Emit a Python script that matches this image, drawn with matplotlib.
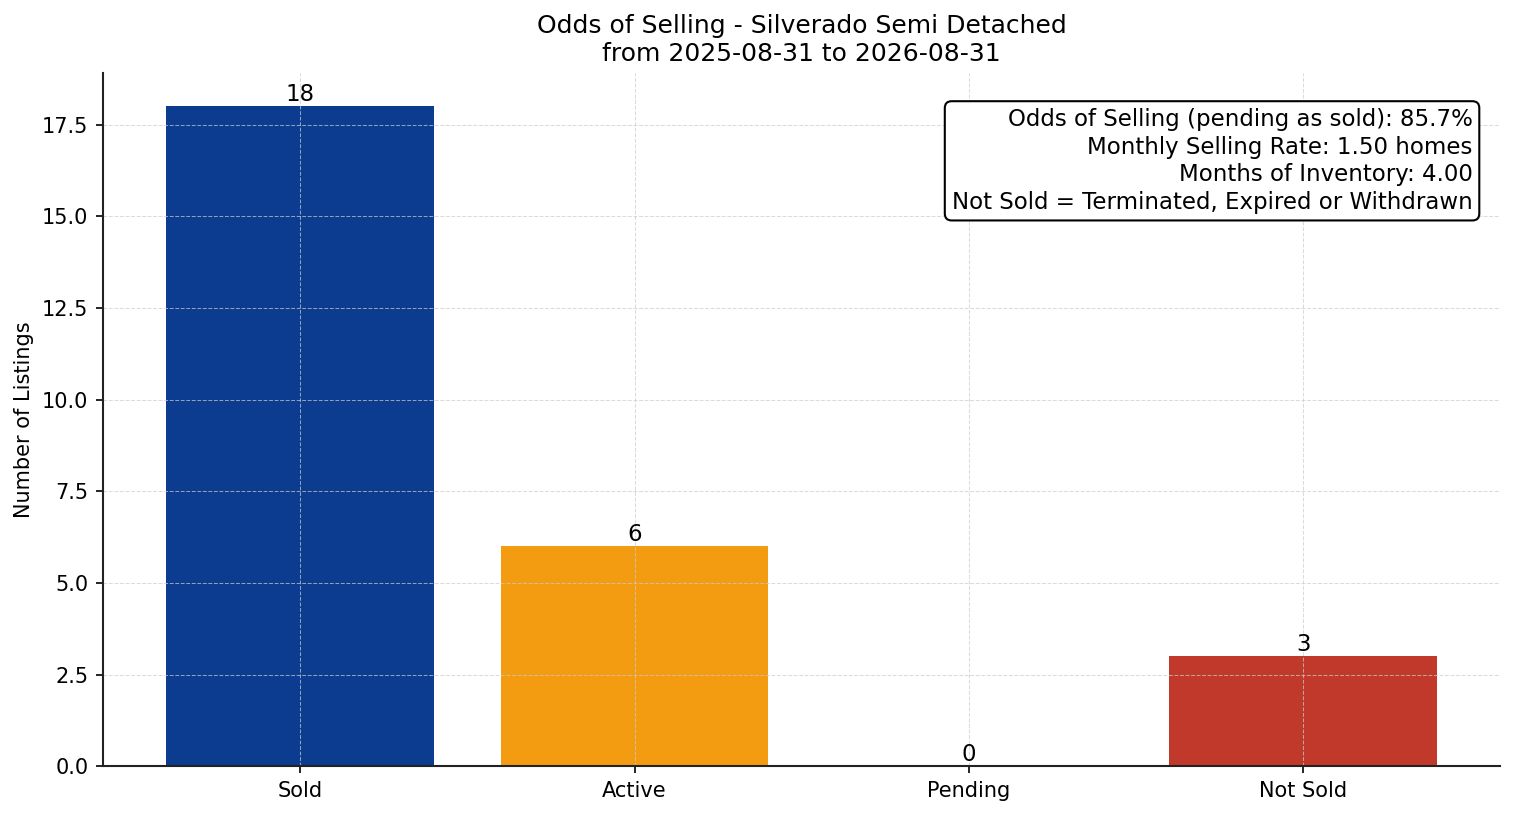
import matplotlib
matplotlib.use("Agg")
import matplotlib.pyplot as plt

categories = ["Sold", "Active", "Pending", "Not Sold"]
counts = [18, 6, 0, 3]
colors = ["#0B3C8F", "#F39C12", "#2E86C1", "#C0392B"]
title = "Odds of Selling - Silverado Semi Detached\nfrom 2025-08-31 to 2026-08-31"
info_lines = [
    "Odds of Selling (pending as sold): 85.7%",
    "Monthly Selling Rate: 1.50 homes",
    "Months of Inventory: 4.00",
    "Not Sold = Terminated, Expired or Withdrawn",
]

fig, ax = plt.subplots(figsize=(1514 / 150, 816 / 150), dpi=150)
bars = ax.bar(categories, counts, color=colors, width=0.8)
for b, v in zip(bars, counts):
    ax.text(b.get_x() + b.get_width() / 2, v, str(v), ha="center", va="bottom", fontsize=11)

ax.set_title(title, fontsize=12)
ax.set_ylabel("Number of Listings", fontsize=10)
ax.tick_params(labelsize=10)
ax.grid(True, linestyle="--", color="#cccccc", linewidth=0.5, alpha=0.7)
for s in ["top", "right"]:
    ax.spines[s].set_visible(False)
for s in ["left", "bottom"]:
    ax.spines[s].set_color("#222222")
    ax.spines[s].set_linewidth(1.0)

ax.text(0.98, 0.95, "\n".join(info_lines), transform=ax.transAxes, ha="right", va="top",
        fontsize=11, linespacing=1.25,
        bbox=dict(boxstyle="round,pad=0.3", facecolor="white", edgecolor="black", linewidth=1.0))

fig.subplots_adjust(left=0.068, right=0.991, top=0.91, bottom=0.061)
fig.savefig("out.png", dpi=150)
